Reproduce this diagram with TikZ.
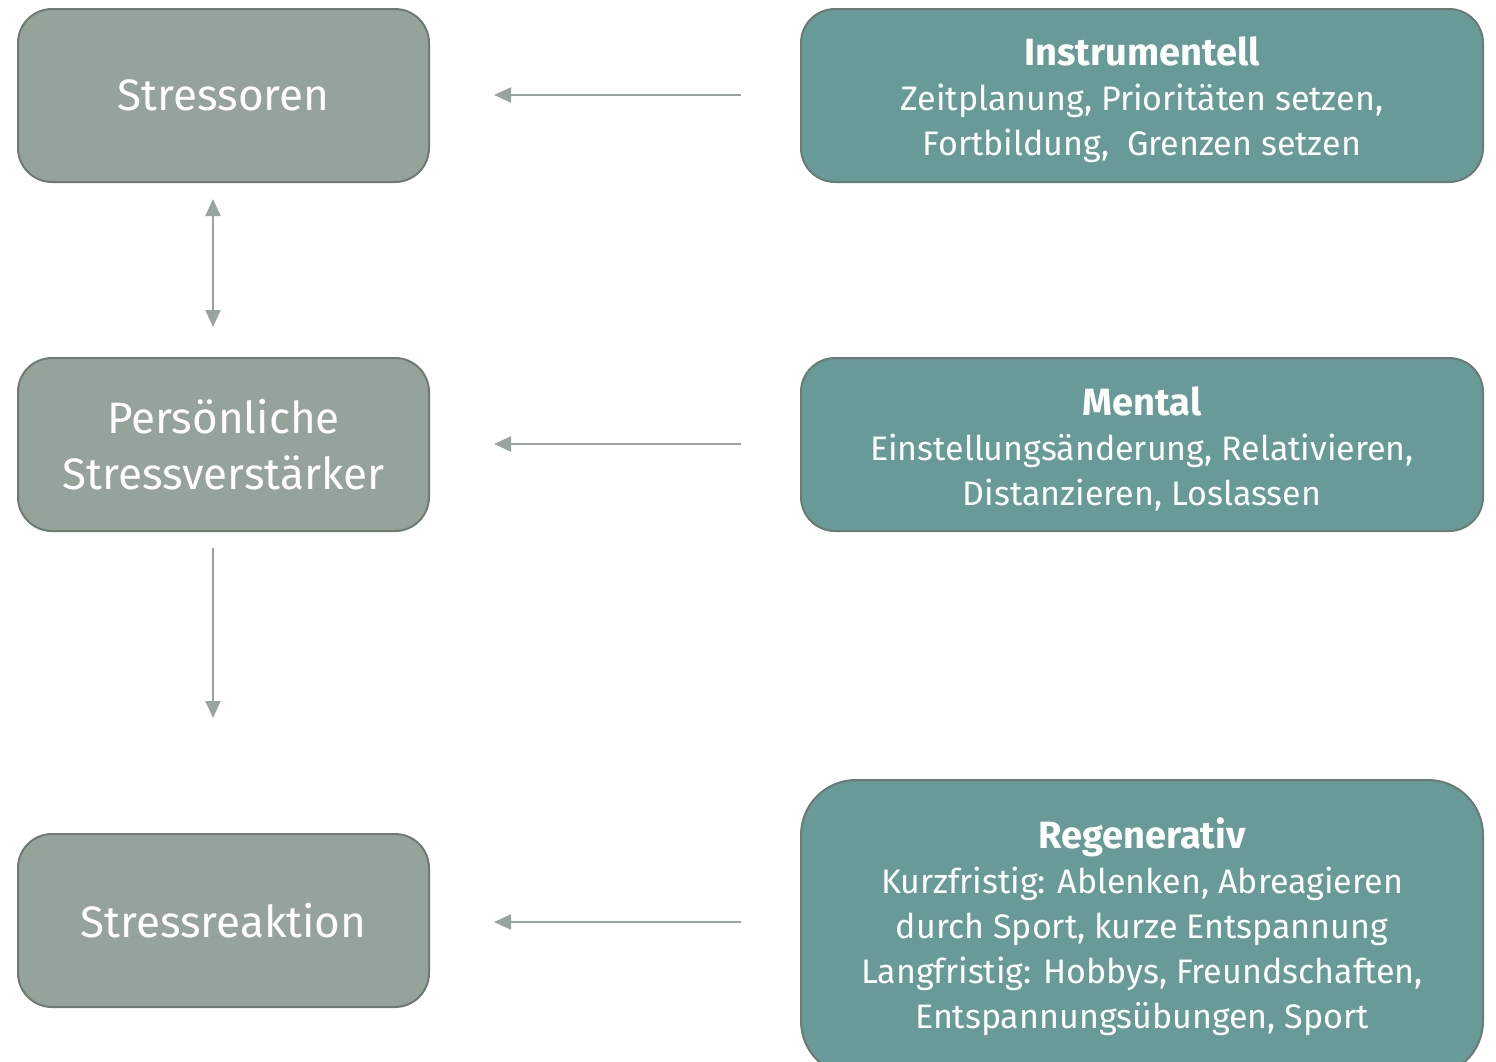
\documentclass[tikz,border=0pt]{standalone}
\usepackage{fontspec}
\setmainfont{Fira Sans}
\usetikzlibrary{arrows.meta}
\definecolor{graybox}{HTML}{95A39A}
\definecolor{grayline}{HTML}{6E7B73}
\definecolor{tealbox}{HTML}{689B98}
\definecolor{tealline}{HTML}{6A7B76}
\definecolor{arrowc}{HTML}{97A59D}
\newcommand{\hd}[1]{{\fontsize{38}{45}\selectfont\bfseries #1}}
\tikzset{
  leftbox/.style={draw=grayline, line width=2pt, fill=graybox, rounded corners=34pt,
    minimum width=411pt, minimum height=173pt, inner sep=0pt, text=white,
    align=center, font=\fontsize{44}{56}\selectfont},
  rightbox/.style={draw=tealline, line width=2pt, fill=tealbox, rounded corners=34pt,
    minimum width=682pt, minimum height=173pt, inner sep=0pt},
  righttext/.style={text=white, align=center, inner sep=0pt, font=\fontsize{34}{45}\selectfont},
  conn/.style={draw=arrowc, line width=2.2pt, -{Triangle[length=17pt,width=15pt]}},
}
\begin{document}
\begin{tikzpicture}[x=1pt,y=-1pt]
\useasboundingbox (0,0) rectangle (1496,1061);
\begin{scope}
\clip (0,0) rectangle (1496,1061);
\node[leftbox] (stressoren) at (223.5,95.5) {Stressoren};
\node[leftbox] (verst) at (223.5,444.5) {Persönliche\\Stressverstärker};
\node[leftbox] (reaktion) at (223.5,920.5) {Stressreaktion};
\node[rightbox] (instr) at (1142,95.5) {};
\node[righttext] (instrtext) at (1142,100) {\hd{Instrumentell}\\Zeitplanung, Prioritäten setzen,\\Fortbildung,\ \ Grenzen setzen};
\node[rightbox] (mental) at (1142,444.5) {};
\node[righttext] (mentaltext) at (1142,449) {\hd{Mental}\\Einstellungsänderung, Relativieren,\\Distanzieren, Loslassen};
\node[rightbox, rounded corners=55pt, minimum height=296pt] (regen) at (1142,928) {};
\node[righttext] (regentext) at (1142,927) {\hd{Regenerativ}\\Kurzfristig: Ablenken, Abreagieren\\durch Sport, kurze Entspannung\\Langfristig: Hobbys, Freundschaften,\\Entspannungsübungen, Sport};
\end{scope}
\coordinate (a1s) at (741,95);
\coordinate (a1e) at (494,95);
\coordinate (a2s) at (741,444);
\coordinate (a2e) at (494,444);
\coordinate (a3s) at (741,922);
\coordinate (a3e) at (494,922);
\coordinate (v1s) at (213,199);
\coordinate (v1e) at (213,327);
\coordinate (v2s) at (213,548);
\coordinate (v2e) at (213,718);
\draw[conn] (a1s) -- (a1e);
\draw[conn] (a2s) -- (a2e);
\draw[conn] (a3s) -- (a3e);
\draw[conn, {Triangle[length=17pt,width=15pt]}-{Triangle[length=17pt,width=15pt]}] (v1s) -- (v1e);
\draw[conn] (v2s) -- (v2e);
\end{tikzpicture}
\end{document}
